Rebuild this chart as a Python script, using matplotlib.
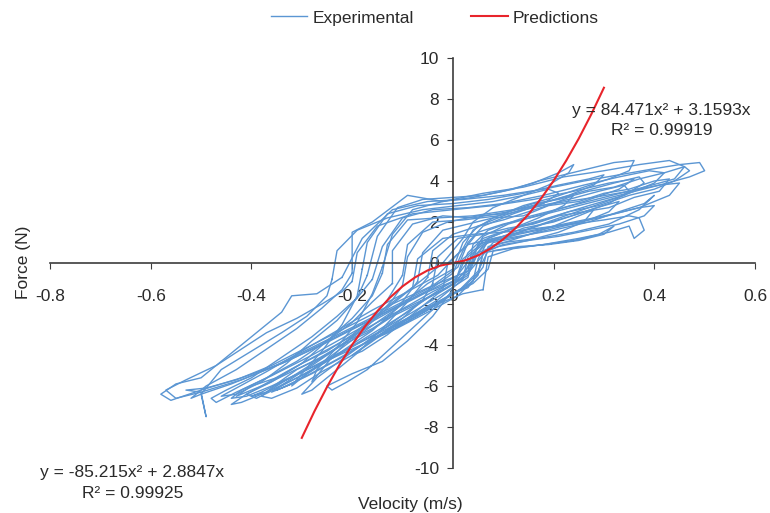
# force vs velocity, experimental loops and fitted predictions
import numpy as np
import matplotlib.pyplot as plt

plt.rcParams['font.family'] = ['Liberation Sans', 'DejaVu Sans']

# experimental cycles (velocity m/s, force N)
exp_velocity = [
    [-0.22, -0.18, -0.12, -0.05, 0.02, 0.10, 0.18, 0.26, 0.33, 0.40, 0.45, 0.49, 0.50, 0.47, 0.41, 0.33, 0.25, 0.17, 0.10, 0.05, 0.02, 0.00, -0.04, -0.10, -0.18, -0.26, -0.34, -0.42, -0.50, -0.56, -0.58, -0.55, -0.50, -0.44, -0.38, -0.34, -0.32, -0.27, -0.22],
    [-0.20, -0.20, -0.16, -0.09, -0.02, 0.06, 0.14, 0.22, 0.30, 0.37, 0.43, 0.46, 0.44, 0.38, 0.30, 0.22, 0.14, 0.07, 0.04, 0.03, -0.03, -0.10, -0.18, -0.27, -0.36, -0.44, -0.50, -0.52, -0.49, -0.43, -0.37, -0.31, -0.26, -0.22, -0.20],
    [-0.16, -0.14, -0.10, -0.04, 0.03, 0.10, 0.18, 0.26, 0.33, 0.39, 0.42, 0.40, 0.34, 0.27, 0.19, 0.12, 0.06, 0.03, 0.01, -0.05, -0.12, -0.20, -0.28, -0.36, -0.43, -0.47, -0.48, -0.45, -0.40, -0.34, -0.28, -0.23, -0.19, -0.16],
    [-0.12, -0.12, -0.08, -0.02, 0.04, 0.11, 0.19, 0.26, 0.32, 0.37, 0.38, 0.34, 0.27, 0.20, 0.13, 0.07, 0.05, 0.04, 0.00, -0.06, -0.13, -0.21, -0.29, -0.36, -0.41, -0.44, -0.42, -0.37, -0.31, -0.25, -0.20, -0.16, -0.12],
    [-0.08, -0.07, -0.02, 0.04, 0.10, 0.17, 0.24, 0.30, 0.35, 0.37, 0.38, 0.36, 0.35, 0.31, 0.25, 0.18, 0.11, 0.06, 0.05, 0.01, -0.05, -0.12, -0.20, -0.28, -0.34, -0.38, -0.40, -0.37, -0.31, -0.24, -0.18, -0.13, -0.08],
    [-0.10, -0.09, -0.04, 0.02, 0.09, 0.16, 0.23, 0.29, 0.34, 0.35, 0.31, 0.25, 0.18, 0.11, 0.06, 0.03, 0.02, -0.03, -0.09, -0.16, -0.23, -0.29, -0.34, -0.36, -0.33, -0.28, -0.22, -0.17, -0.13, -0.10],
    [-0.18, -0.17, -0.13, -0.07, 0.00, 0.07, 0.14, 0.21, 0.27, 0.30, 0.28, 0.23, 0.16, 0.10, 0.05, 0.02, 0.00, -0.05, -0.11, -0.18, -0.24, -0.29, -0.32, -0.30, -0.26, -0.22, -0.19, -0.18],
    [-0.14, -0.12, -0.08, -0.02, 0.04, 0.10, 0.16, 0.21, 0.24, 0.23, 0.19, 0.13, 0.08, 0.04, 0.02, -0.02, -0.07, -0.13, -0.19, -0.24, -0.28, -0.27, -0.23, -0.19, -0.16, -0.14],
    [0.00, 0.02, 0.06, 0.13, 0.20, 0.27, 0.33, 0.38, 0.40, 0.37, 0.31, 0.24, 0.17, 0.10, 0.07, 0.06, 0.03, -0.01, -0.05, -0.09, -0.13, -0.17, -0.21, -0.24, -0.25, -0.20, -0.14, -0.09, -0.04, 0.00],
    [0.03, 0.05, 0.09, 0.14, 0.20, 0.25, 0.28, 0.26, 0.21, 0.15, 0.09, 0.06, 0.05, 0.02, -0.03, -0.08, -0.13, -0.17, -0.20, -0.18, -0.13, -0.08, -0.03, 0.03],
    [0.06, 0.07, 0.12, 0.18, 0.24, 0.29, 0.32, 0.30, 0.25, 0.19, 0.13, 0.08, 0.07, 0.04, 0.00, -0.05, -0.10, -0.15, -0.13, -0.08, -0.03, 0.02, 0.06],
    [-0.14, -0.13, -0.09, -0.03, 0.04, 0.12, 0.20, 0.28, 0.35, 0.41, 0.45, 0.43, 0.37, 0.29, 0.21, 0.13, 0.07, 0.04, 0.03, -0.02, -0.08, -0.15, -0.23, -0.30, -0.37, -0.42, -0.44, -0.41, -0.36, -0.30, -0.25, -0.20, -0.16, -0.14],
    [-0.24, -0.23, -0.19, -0.13, -0.06, 0.01, 0.08, 0.14, 0.19, 0.21, 0.18, 0.12, 0.06, 0.03, 0.01, -0.04, -0.12, -0.20, -0.28, -0.36, -0.43, -0.49, -0.53, -0.50, -0.49, -0.50, -0.46, -0.40, -0.34, -0.29, -0.25, -0.24],
    [-0.20, -0.19, -0.15, -0.08, 0.00, 0.08, 0.16, 0.24, 0.31, 0.36, 0.33, 0.26, 0.18, 0.11, 0.06, 0.04, 0.00, -0.07, -0.15, -0.24, -0.33, -0.42, -0.50, -0.55, -0.57, -0.53, -0.47, -0.42, -0.37, -0.31, -0.26, -0.22, -0.20],
    [-0.10, -0.09, -0.06, -0.01, 0.05, 0.10, 0.16, 0.21, 0.27, 0.32, 0.37, 0.42, 0.46, 0.47, 0.44, 0.40, 0.35, 0.29, 0.23, 0.17, 0.11, 0.06, 0.04, 0.02, -0.02, -0.07, -0.12, -0.17, -0.22, -0.27, -0.32, -0.37, -0.41, -0.43, -0.40, -0.35, -0.30, -0.25, -0.20, -0.15, -0.12, -0.10],
    [-0.04, -0.03, 0.01, 0.06, 0.11, 0.16, 0.21, 0.26, 0.30, 0.33, 0.31, 0.27, 0.22, 0.17, 0.12, 0.08, 0.06, 0.03, -0.01, -0.06, -0.11, -0.16, -0.21, -0.26, -0.31, -0.35, -0.38, -0.36, -0.31, -0.26, -0.20, -0.15, -0.10, -0.06, -0.04],
    [-0.07, -0.06, -0.02, 0.03, 0.08, 0.14, 0.19, 0.25, 0.30, 0.35, 0.40, 0.43, 0.41, 0.36, 0.31, 0.26, 0.20, 0.14, 0.09, 0.05, 0.04, 0.01, -0.04, -0.09, -0.15, -0.21, -0.27, -0.33, -0.38, -0.41, -0.39, -0.34, -0.28, -0.22, -0.16, -0.11, -0.07],
    [-0.05, -0.04, 0.00, 0.05, 0.10, 0.15, 0.20, 0.24, 0.22, 0.17, 0.12, 0.07, 0.05, 0.03, -0.02, -0.07, -0.12, -0.17, -0.22, -0.27, -0.30, -0.28, -0.24, -0.19, -0.14, -0.09, -0.05],
    [-0.17, -0.15, -0.11, -0.06, 0.00, 0.06, 0.12, 0.17, 0.22, 0.27, 0.32, 0.36, 0.35, 0.31, 0.26, 0.20, 0.14, 0.08, 0.04, 0.02, -0.03, -0.09, -0.16, -0.23, -0.30, -0.37, -0.43, -0.46, -0.43, -0.38, -0.33, -0.28, -0.23, -0.19, -0.17],
    [-0.02, -0.01, 0.03, 0.08, 0.14, 0.20, 0.26, 0.32, 0.37, 0.40, 0.38, 0.33, 0.27, 0.21, 0.15, 0.10, 0.07, 0.05, 0.01, -0.04, -0.10, -0.16, -0.22, -0.28, -0.33, -0.35, -0.32, -0.27, -0.21, -0.15, -0.09, -0.05, -0.02],
]
exp_force = [
    [-0.7, 1.2, 2.6, 3.0, 3.1, 3.3, 3.6, 4.0, 4.3, 4.6, 4.8, 4.9, 4.5, 4.2, 3.8, 3.3, 2.8, 2.3, 1.9, 1.5, 0.6, -0.5, -1.2, -2.0, -3.0, -4.0, -4.9, -5.6, -6.2, -6.7, -6.4, -5.9, -5.6, -4.4, -3.2, -2.4, -1.6, -1.5, -0.7],
    [-0.5, 1.5, 2.0, 3.3, 3.0, 3.4, 3.7, 4.2, 4.5, 4.8, 5.0, 4.7, 4.1, 3.7, 3.2, 2.7, 2.2, 1.6, 0.9, -0.4, -1.0, -1.9, -2.9, -4.0, -5.1, -5.9, -6.4, -6.6, -6.0, -5.2, -4.2, -3.2, -2.2, -1.3, -0.5],
    [-0.8, 0.8, 2.2, 2.6, 2.7, 2.9, 3.3, 3.8, 4.2, 4.5, 4.4, 3.9, 3.3, 2.8, 2.2, 1.7, 1.2, 0.5, -0.6, -1.4, -2.3, -3.4, -4.5, -5.5, -6.3, -6.8, -6.6, -6.2, -5.6, -4.6, -3.6, -2.6, -1.7, -0.8],
    [-1.0, 0.6, 1.9, 2.3, 2.2, 2.5, 3.0, 3.5, 3.9, 4.2, 3.9, 3.3, 2.7, 2.1, 1.5, 1.1, 0.2, -0.9, -1.5, -2.3, -3.2, -4.2, -5.2, -6.0, -6.5, -6.6, -6.2, -5.6, -4.8, -3.8, -2.9, -1.9, -1.0],
    [-1.2, 0.2, 1.2, 1.4, 1.5, 1.7, 1.9, 2.1, 2.3, 2.2, 1.6, 1.2, 1.8, 1.5, 1.2, 0.9, 0.7, 0.5, -0.6, -1.6, -2.4, -3.3, -4.2, -5.1, -5.8, -6.3, -6.5, -6.3, -5.4, -4.3, -3.3, -2.2, -1.2],
    [-0.6, 0.9, 2.0, 2.1, 2.3, 2.7, 3.1, 3.5, 3.8, 3.5, 2.9, 2.4, 1.9, 1.3, 0.9, 0.3, -0.8, -1.8, -2.7, -3.7, -4.7, -5.5, -6.1, -6.3, -5.8, -5.0, -4.0, -3.0, -1.8, -0.6],
    [-0.3, 1.0, 2.4, 2.8, 2.9, 3.1, 3.4, 3.8, 4.1, 4.3, 3.8, 3.3, 2.8, 2.3, 1.8, 1.0, -0.3, -1.0, -2.2, -3.4, -4.5, -5.4, -6.0, -5.4, -4.3, -3.0, -1.6, -0.3],
    [-0.2, 1.4, 2.6, 3.0, 3.2, 3.5, 3.9, 4.4, 4.8, 4.4, 3.8, 3.2, 2.7, 2.0, 1.2, 0.0, -1.0, -2.1, -3.3, -4.6, -5.8, -5.2, -4.1, -2.9, -1.5, -0.2],
    [-1.3, 0.2, 1.0, 1.3, 1.6, 2.0, 2.5, 2.9, 3.3, 2.6, 1.9, 1.5, 1.2, 1.0, 0.8, -0.2, -1.2, -1.6, -2.5, -3.4, -4.3, -5.2, -5.8, -6.2, -6.0, -5.4, -4.8, -3.8, -2.6, -1.3],
    [-0.6, 0.5, 0.9, 1.3, 1.8, 2.3, 2.6, 2.0, 1.5, 1.1, 0.8, 0.5, -0.5, -1.2, -1.9, -2.6, -3.3, -4.0, -4.5, -4.3, -3.5, -2.5, -1.5, -0.6],
    [-1.3, 0.3, 0.7, 0.9, 1.1, 1.4, 1.8, 1.4, 1.1, 0.9, 0.8, 0.6, -0.3, -1.0, -1.5, -2.3, -3.0, -3.6, -3.4, -2.7, -2.0, -1.5, -1.3],
    [-0.5, 0.9, 2.1, 2.2, 2.3, 2.6, 2.9, 3.2, 3.5, 3.8, 3.9, 3.3, 2.7, 2.2, 1.8, 1.4, 1.0, 0.3, -0.7, -1.5, -2.4, -3.4, -4.5, -5.5, -6.3, -6.8, -6.9, -6.4, -5.8, -4.9, -3.8, -2.7, -1.6, -0.5],
    [-0.8, 0.6, 1.6, 2.2, 2.6, 2.8, 3.0, 3.3, 3.6, 3.4, 2.9, 2.4, 1.8, 1.0, -0.2, -1.1, -2.0, -3.0, -4.0, -5.0, -5.7, -6.1, -6.2, -6.3, -7.5, -6.4, -5.2, -4.3, -3.4, -2.6, -1.6, -0.8],
    [-0.9, 0.5, 1.8, 2.4, 2.6, 2.8, 3.1, 3.5, 3.9, 4.1, 3.6, 3.0, 2.4, 1.9, 1.3, 0.4, -0.9, -1.6, -2.6, -3.7, -4.8, -5.7, -6.3, -6.6, -6.2, -5.7, -5.0, -4.2, -3.4, -2.7, -2.0, -1.4, -0.9],
    [-1.1, 0.3, 1.5, 2.0, 2.3, 2.4, 2.9, 3.1, 3.5, 3.7, 4.1, 4.4, 4.7, 4.5, 4.0, 3.6, 3.3, 2.8, 2.5, 2.0, 1.6, 1.1, 0.4, -0.7, -1.3, -2.0, -2.6, -3.4, -4.0, -4.7, -5.3, -5.9, -6.3, -6.5, -6.0, -5.6, -4.9, -4.3, -3.5, -2.6, -1.8, -1.1],
    [-1.0, 0.3, 1.2, 1.4, 1.7, 1.9, 2.3, 2.5, 2.8, 3.0, 2.5, 2.1, 1.8, 1.5, 1.2, 1.0, 0.4, -0.5, -1.2, -1.8, -2.4, -3.2, -3.8, -4.6, -5.2, -5.9, -6.5, -6.6, -6.1, -5.3, -4.5, -3.6, -2.7, -1.8, -1.0],
    [-0.9, 0.5, 1.6, 1.9, 2.2, 2.3, 2.8, 3.0, 3.4, 3.6, 4.0, 4.1, 3.5, 3.2, 2.7, 2.5, 2.0, 1.7, 1.2, 0.9, 0.1, -0.8, -1.4, -2.1, -2.9, -3.7, -4.5, -5.3, -6.0, -6.4, -6.6, -6.0, -5.2, -4.3, -3.3, -2.2, -0.9],
    [-0.7, 0.6, 1.4, 1.8, 2.1, 2.5, 2.9, 3.3, 2.8, 2.2, 1.7, 1.2, 0.5, -0.4, -1.2, -2.0, -2.9, -3.8, -4.7, -5.6, -6.4, -6.2, -5.4, -4.4, -3.2, -1.9, -0.7],
    [-0.6, 1.3, 2.7, 3.1, 3.2, 3.3, 3.6, 4.0, 4.3, 4.6, 4.9, 5.0, 4.5, 4.1, 3.7, 3.2, 2.8, 2.2, 1.6, 0.7, -0.6, -1.4, -2.3, -3.3, -4.3, -5.3, -6.1, -6.5, -6.4, -5.8, -4.9, -3.8, -2.8, -1.7, -0.6],
    [-1.3, 0.0, 0.9, 1.2, 1.5, 1.8, 2.1, 2.4, 2.7, 2.8, 2.3, 1.9, 1.6, 1.3, 1.1, 0.9, 0.6, -0.4, -1.4, -2.1, -2.9, -3.7, -4.6, -5.4, -6.0, -6.2, -5.9, -5.1, -4.2, -3.3, -2.4, -1.7, -1.3],
]

# prediction curves as drawn
pred_pos_v = [0, 0.025, 0.05, 0.075, 0.1, 0.125, 0.15, 0.175, 0.2, 0.225, 0.25, 0.275, 0.3]
pred_pos_f = [0, 0.13, 0.37, 0.71, 1.16, 1.71, 2.37, 3.14, 4.01, 4.99, 6.07, 7.26, 8.55]
pred_neg_v = [0, -0.025, -0.05, -0.075, -0.1, -0.125, -0.15, -0.175, -0.2, -0.225, -0.25, -0.275, -0.3]
pred_neg_f = [0, -0.13, -0.36, -0.70, -1.14, -1.69, -2.35, -3.11, -3.99, -4.96, -6.05, -7.24, -8.53]

x_ticks = [-0.8, -0.6, -0.4, -0.2, 0, 0.2, 0.4, 0.6]
x_labels = ['-0.8', '-0.6', '-0.4', '-0.2', '0', '0.2', '0.4', '0.6']
y_ticks = [-10, -8, -6, -4, -2, 0, 2, 4, 6, 8, 10]

blue = '#5b96d3'
red = '#e8242b'
txt = '#2a2a2a'
axc = '#3c3c3c'

fig = plt.figure(figsize=(7.7, 5.13), dpi=100)
ax = fig.add_axes([50/770, 45/513, 705/770, 410/513])

for i in range(len(exp_velocity)):
    ax.plot(exp_velocity[i], exp_force[i], color=blue, lw=1.0,
            label='Experimental' if i == 0 else None)
ax.plot(pred_pos_v, pred_pos_f, color=red, lw=1.5, label='Predictions')
ax.plot(pred_neg_v, pred_neg_f, color=red, lw=1.5)

ax.set_xlim(-0.8, 0.6)
ax.set_ylim(-10, 10)
ax.spines['left'].set_position(('data', 0))
ax.spines['bottom'].set_position(('data', 0))
ax.spines['top'].set_visible(False)
ax.spines['right'].set_visible(False)
for s in ['left', 'bottom']:
    ax.spines[s].set_color(axc)
    ax.spines[s].set_linewidth(1.2)
ax.set_xticks(x_ticks)
ax.set_xticklabels(x_labels)
ax.set_yticks(y_ticks)
ax.set_yticklabels([str(v) for v in y_ticks])
ax.tick_params(axis='x', direction='out', length=4, pad=15, colors=axc,
               labelcolor=txt, labelsize=12.5)
ax.tick_params(axis='y', direction='out', length=4, pad=6, colors=axc,
               labelcolor=txt, labelsize=12.5)

fig.text(24/770, 1 - 262/513, 'Force (N)', rotation=90, ha='center', va='center',
         fontsize=12.5, color=txt)
fig.text(410/770, 1 - 505/513, 'Velocity (m/s)', ha='center', va='center',
         fontsize=12.5, color=txt)

# trendline equations
fig.text(661/770, 1 - 111/513, 'y = 84.471x² + 3.1593x', ha='center', va='center',
         fontsize=12.5, color=txt)
fig.text(662/770, 1 - 131/513, 'R² = 0.99919', ha='center', va='center',
         fontsize=12.5, color=txt)
fig.text(132/770, 1 - 473/513, 'y = -85.215x² + 2.8847x', ha='center', va='center',
         fontsize=12.5, color=txt)
fig.text(133/770, 1 - 494/513, 'R² = 0.99925', ha='center', va='center',
         fontsize=12.5, color=txt)

fig.legend(loc='center', bbox_to_anchor=(435/770, 1 - 18/513), ncol=2, frameon=False,
           fontsize=12.5, handlelength=2.1, handletextpad=0.3, columnspacing=3.3,
           labelcolor=txt)

fig.savefig('out.png', dpi=100)
